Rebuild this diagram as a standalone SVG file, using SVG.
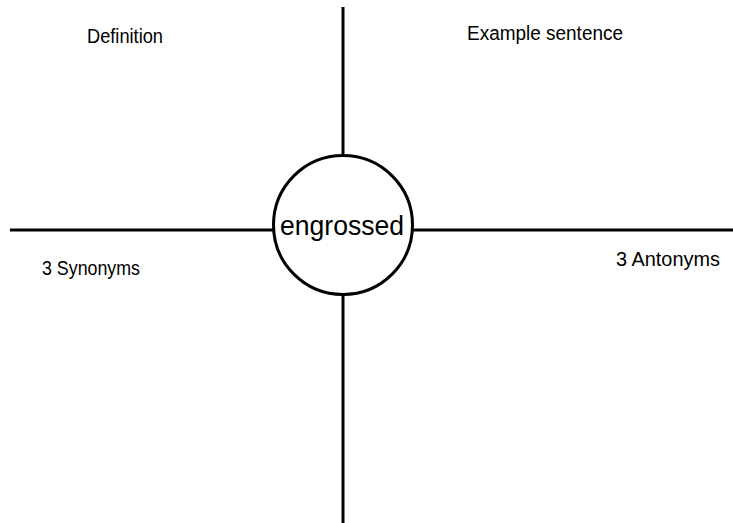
<svg xmlns="http://www.w3.org/2000/svg" width="733" height="523" viewBox="0 0 733 523">
<style>
.ln{stroke:#000;stroke-width:3;fill:none}
.lbl{font-family:"Liberation Sans",Arial,sans-serif;font-size:20px;fill:#000}
.ctr{font-family:"Liberation Sans",Arial,sans-serif;font-size:27px;fill:#000}
</style>
<rect width="733" height="523" fill="#fff"/>
<g id="connectors">
<line class="ln" x1="343" y1="7" x2="343" y2="156"/>
<line class="ln" x1="343" y1="294" x2="343" y2="523"/>
<line class="ln" x1="10" y1="230" x2="274" y2="230"/>
<line class="ln" x1="412" y1="230" x2="733" y2="230"/>
</g>
<g id="center">
<circle class="ln" cx="343" cy="225" r="69.5" fill="#fff"/>
<text class="ctr" x="280" y="235" textLength="124" lengthAdjust="spacingAndGlyphs">engrossed</text>
</g>
<g id="definition"><text class="lbl" x="87" y="43" textLength="76" lengthAdjust="spacingAndGlyphs">Definition</text></g>
<g id="example"><text class="lbl" x="467" y="40" textLength="156" lengthAdjust="spacingAndGlyphs">Example sentence</text></g>
<g id="synonyms"><text class="lbl" x="42" y="275" textLength="98" lengthAdjust="spacingAndGlyphs">3 Synonyms</text></g>
<g id="antonyms"><text class="lbl" x="616" y="266" textLength="104" lengthAdjust="spacingAndGlyphs">3 Antonyms</text></g>
</svg>
